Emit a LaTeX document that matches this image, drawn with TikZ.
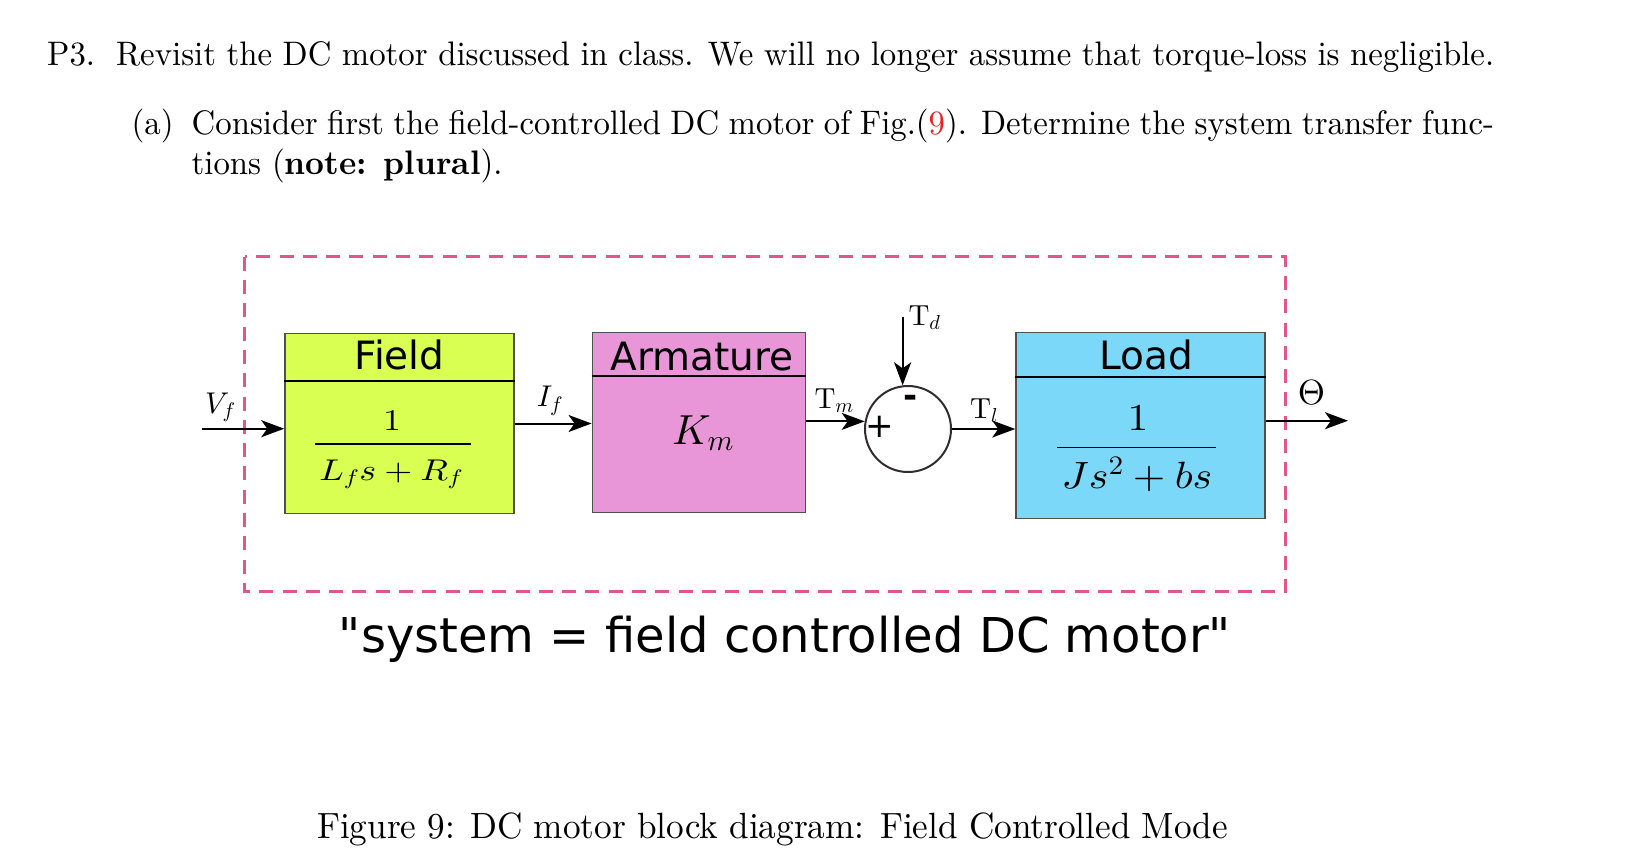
\RequirePackage{fix-cm}
\documentclass[tikz,border=0pt]{standalone}
\usepackage[no-math]{fontspec}
\setmainfont{lmroman10}[Extension=.otf, UprightFont=*-regular, BoldFont=*-bold, ItalicFont=*-italic, BoldItalicFont=*-bolditalic, Ligatures=TeX]
\DeclareFontShape{OML}{cmm}{m}{it}{<->cmmi10}{}
\DeclareFontShape{OT1}{cmr}{m}{n}{<->cmr10}{}
\DeclareFontShape{OMS}{cmsy}{m}{n}{<->cmsy10}{}
\usepackage{graphicx}
\usetikzlibrary{arrows.meta}
\newfontfamily\dejavu{DejaVu Sans}
\newcommand{\narrowtxt}[1]{\scalebox{0.965}[1]{#1}}
\definecolor{fieldc}{RGB}{216,255,82}
\definecolor{armc}{RGB}{232,150,216}
\definecolor{loadc}{RGB}{124,216,248}
\definecolor{dashc}{RGB}{224,88,138}
\definecolor{linkred}{RGB}{229,40,35}
\definecolor{edgec}{RGB}{80,80,80}
\tikzset{
  blockbox/.style={draw=edgec, line width=1.5pt, inner sep=0pt},
  divider/.style={line width=2pt, black},
  sig/.style={line width=2pt, -{Stealth[length=23pt,width=17pt,inset=6pt]}},
  txt/.style={inner sep=0pt, font=\fontsize{34}{40}\selectfont},
  blabel/.style={inner sep=0pt, anchor=base, font=\dejavu\fontsize{39}{46}\selectfont},
  mlabel/.style={inner sep=0pt, anchor=base west},
  dashbox/.style={draw=dashc, line width=2.7pt, dash pattern=on 14pt off 9.3pt}
}
\begin{document}
\begin{tikzpicture}[x=1pt,y=-1pt]
\fill[white] (0,0) rectangle (1650,860);
\useasboundingbox (0,0) rectangle (1650,860);

% text
\node[txt, anchor=base west] (t1) at (47,65) {\narrowtxt{\makebox[1499.5pt][s]{P3.\ \ Revisit the DC motor discussed in class. We will no longer assume that torque-loss is negligible.}}};
\node[txt, anchor=base west] (ta) at (131.5,134.7) {\narrowtxt{(a)}};
\node[txt, anchor=base west] (t2) at (191.5,134.7) {\narrowtxt{\makebox[1349.7pt][s]{Consider first the field-controlled DC motor of Fig.(\textcolor{linkred}{9}). Determine the system transfer func-}}};
\node[txt, anchor=base west] (t3) at (191.5,174.7) {\narrowtxt{tions (\textbf{note: plural}).}};

% dashed system boundary
\draw[dashbox] (244.7,256.7) rectangle (1285.5,591.7);

% blocks
\node[blockbox, fill=fieldc, minimum width=229pt, minimum height=179.6pt] (field) at (399.5,423.5) {};
\node[blockbox, fill=armc, minimum width=213.4pt, minimum height=180pt] (arm) at (699,422.3) {};
\node[blockbox, fill=loadc, minimum width=249pt, minimum height=185.6pt] (load) at (1140.5,425.5) {};

\draw[divider] (field.west |- 0,380.7) -- (field.east |- 0,380.7);
\draw[divider] (arm.west |- 0,376) -- (arm.east |- 0,376);
\draw[divider] (load.west |- 0,377.3) -- (load.east |- 0,377.3);

\node[blabel] (fieldt) at (399.5,369.3) {Field};
\node[blabel] (armt) at (702,370) {Armature};
\node[blabel] (loadt) at (1146,369.3) {Load};

% field fraction
\node[inner sep=0pt, anchor=base] (fnum) at (392,430) {\fontsize{30}{36}\selectfont\scalebox{1.2}[1]{$1$}};
\draw[line width=1.3pt] (315,444) -- (471,444);
\node[inner sep=0pt, anchor=base] (fden) at (391.3,480) {\fontsize{30}{36}\selectfont\scalebox{1.2}[1]{$L_f s+R_f$}};

% armature gain
\node[inner sep=0pt, anchor=base] (km) at (703,444.3) {\fontsize{42}{50}\selectfont$K_m$};

% load fraction
\node[inner sep=0pt, anchor=base] (lnum) at (1138,430) {\fontsize{38}{44}\selectfont\scalebox{1.1}[1]{$1$}};
\draw[line width=1.3pt] (1057,447.7) -- (1216,447.7);
\node[inner sep=0pt, anchor=base] (lden) at (1137,488.3) {\fontsize{38}{44}\selectfont\scalebox{1.1}[1]{$Js^2+bs$}};

% summing junction
\node[circle, draw={rgb,255:red,50;green,45;blue,45}, line width=2pt, fill=white, minimum size=86pt, inner sep=0pt] (sum) at (908,429) {};
\node[inner sep=0pt, font=\dejavu\fontsize{34}{40}\selectfont] (plus) at (879.3,426.7) {+};
\node[inner sep=0pt, font=\dejavu\bfseries\fontsize{34}{40}\selectfont] (minus) at (910.7,401.7) {-};

% connectors
\coordinate (vin) at (202,428.7);
\coordinate (tdtop) at (903,316.7);
\coordinate (thout) at (1348,420.7);
\draw[sig] (vin) -- (vin -| field.west);
\draw[sig] (field.east) -- (field.east -| arm.west);
\draw[sig] (sum.170 -| arm.east) -- (sum.170);
\draw[sig] (sum.97 |- tdtop) -- (sum.97);
\draw[sig] (sum.east) -- (sum.east -| load.west);
\draw[sig] (thout -| load.east) -- (thout);

% signal labels
\node[mlabel] (lvf) at (205,413.3) {\fontsize{30}{36}\selectfont$V_f$};
\node[mlabel] (lif) at (536.7,406.7) {\fontsize{30}{36}\selectfont$I_f$};
\node[mlabel] (ltm) at (814.3,408.3) {\fontsize{29}{36}\selectfont$\mathrm{T}_m$};
\node[mlabel] (ltd) at (908.3,325) {\fontsize{29}{36}\selectfont$\mathrm{T}_d$};
\node[mlabel] (ltl) at (970,418.3) {\fontsize{29}{36}\selectfont$\mathrm{T}_l$};
\node[mlabel] (lth) at (1297.7,404) {\fontsize{35}{42}\selectfont$\Theta$};

% caption texts
\node[inner sep=0pt, anchor=base, font=\dejavu\fontsize{48}{56}\selectfont] (sys) at (785,652) {"system = field controlled DC motor"};
\node[inner sep=0pt, anchor=base, font=\fontsize{36.5}{42}\selectfont] (cap) at (772.5,838.7) {\narrowtxt{\makebox[944pt][s]{Figure 9: DC motor block diagram: Field Controlled Mode}}};
\end{tikzpicture}
\end{document}
